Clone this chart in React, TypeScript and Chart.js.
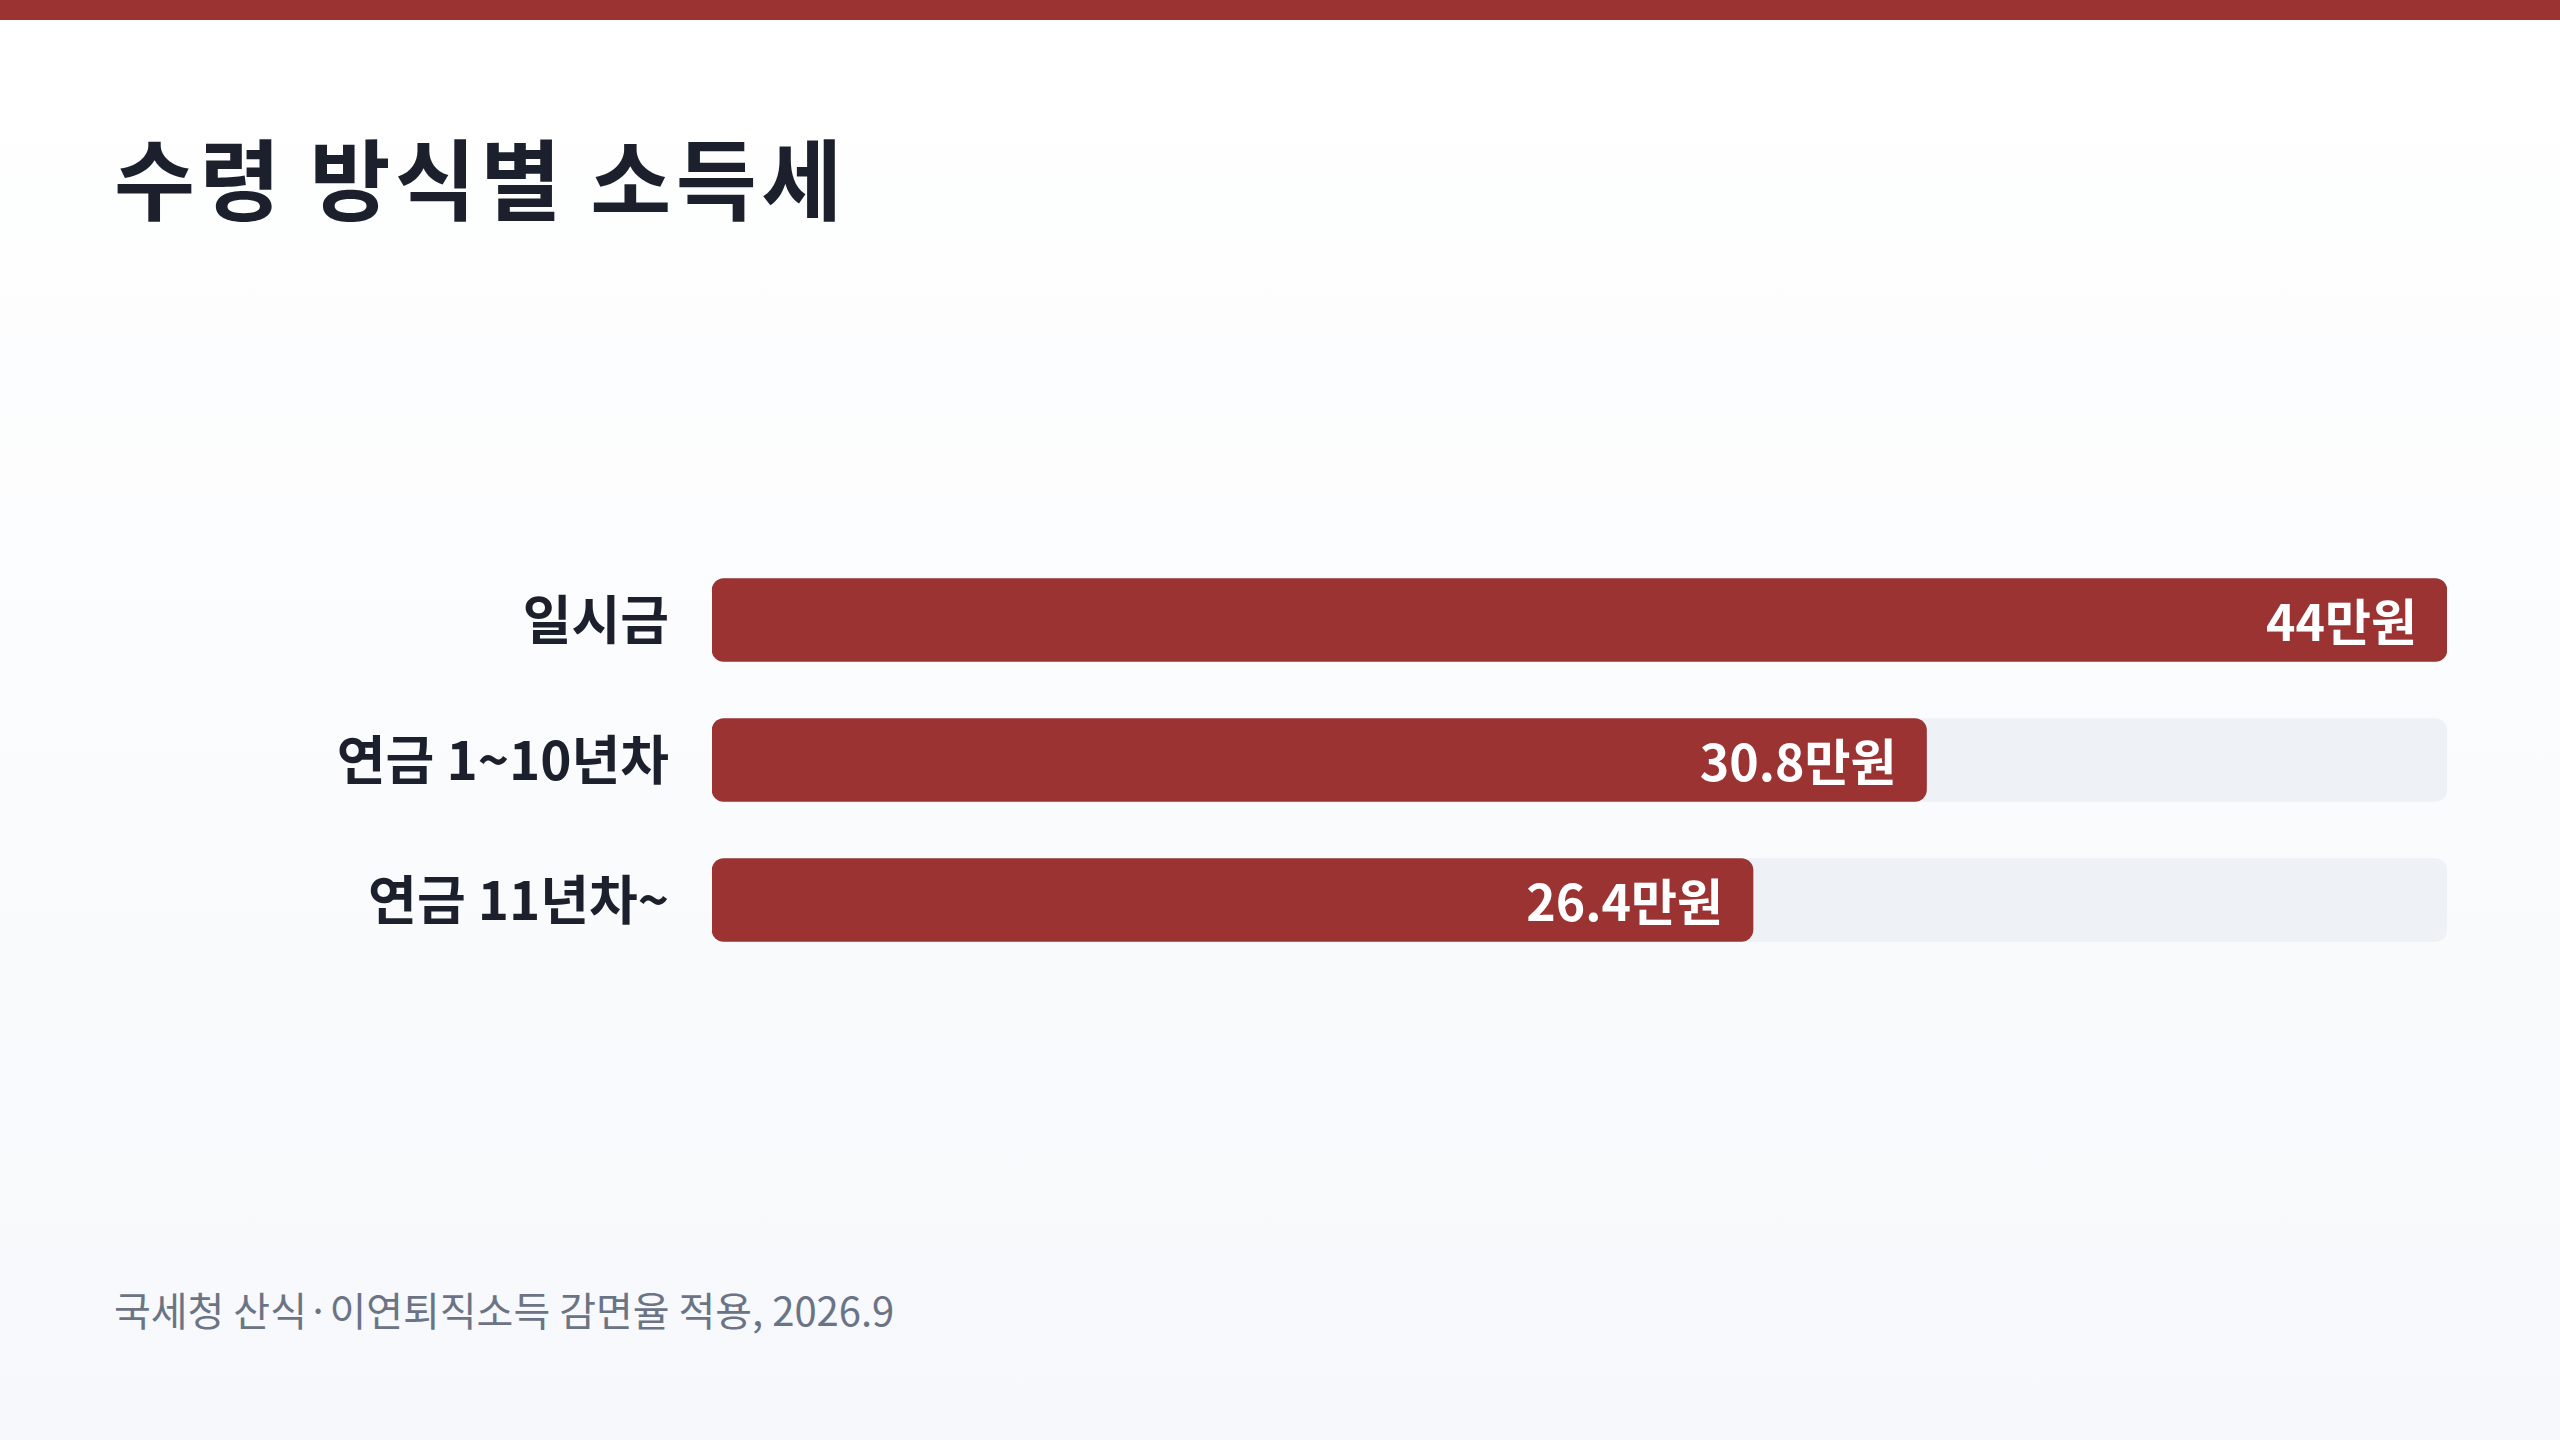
import { Chart, registerables, type ChartData, type ChartOptions, type Plugin } from 'chart.js';
import { type FC, useEffect, useMemo, useRef } from 'react';

Chart.register(...registerables);

const categories = ['일시금', '연금 1~10년차', '연금 11년차~'];
const taxValues = [44, 30.8, 26.4];
const valueLabels = ['44만원', '30.8만원', '26.4만원'];
const trackMax = 44;

const FONT = '"Noto Sans CJK KR", "Noto Sans", sans-serif';
const RED = '#9b3332';
const TRACK = '#eef1f6';
const INK = '#1b202c';

const CHART_W = 2447;
const CHART_H = 420;

// 막대 안쪽 오른쪽 끝에 값 라벨
const valueLabelPlugin: Plugin<'bar'> = {
  id: 'valueLabels',
  afterDatasetsDraw(chart) {
    const meta = chart.getDatasetMeta(0);
    const ctx = chart.ctx;
    ctx.save();
    ctx.font = `700 50px ${FONT}`;
    ctx.fillStyle = '#ffffff';
    ctx.textAlign = 'right';
    ctx.textBaseline = 'middle';
    meta.data.forEach((bar, i) => {
      ctx.fillText(valueLabels[i], bar.x - 30, bar.y + 2);
    });
    ctx.restore();
  },
};

const App: FC = () => {
  const canvasRef = useRef<HTMLCanvasElement>(null);
  const chartRef = useRef<Chart<'bar'> | null>(null);

  const data: ChartData<'bar'> = useMemo(
    () => ({
      labels: categories,
      datasets: [
        {
          label: '소득세',
          data: taxValues,
          backgroundColor: RED,
          borderRadius: 12,
          borderSkipped: false,
          barThickness: 83,
          grouped: false,
        },
        {
          label: 'track',
          data: categories.map(() => trackMax),
          backgroundColor: TRACK,
          borderRadius: 12,
          borderSkipped: false,
          barThickness: 83,
          grouped: false,
        },
      ],
    }),
    [],
  );

  const options: ChartOptions<'bar'> = useMemo(
    () => ({
      indexAxis: 'y',
      animation: false,
      responsive: false,
      devicePixelRatio: 1,
      layout: { padding: 0 },
      plugins: {
        legend: { display: false },
        tooltip: { enabled: false },
      },
      scales: {
        x: {
          display: false,
          min: 0,
          max: trackMax,
        },
        y: {
          grid: { display: false, drawTicks: false },
          border: { display: false },
          ticks: {
            padding: 43,
            color: INK,
            font: { family: FONT, size: 53, weight: 'bold' },
          },
          afterFit: (scale) => {
            // 라벨 영역 폭 고정, 위아래 여백 제거
            scale.width = 712;
            scale.paddingTop = 0;
            scale.paddingBottom = 0;
          },
        },
      },
    }),
    [],
  );

  useEffect(() => {
    if (!canvasRef.current) return;
    chartRef.current = new Chart(canvasRef.current, {
      type: 'bar',
      data,
      options,
      plugins: [valueLabelPlugin],
    });
    return () => {
      chartRef.current?.destroy();
    };
  }, [data, options]);

  return (
    <div
      style={{
        position: 'fixed',
        left: 0,
        top: 0,
        width: 2560,
        height: 1440,
        background: 'linear-gradient(180deg, #ffffff 0%, #f6f8fb 100%)',
        fontFamily: FONT,
        overflow: 'hidden',
      }}
    >
      <div style={{ position: 'absolute', left: 0, top: 0, width: 2560, height: 20, background: RED }} />
      <div
        style={{
          position: 'absolute',
          left: 114,
          top: 131,
          fontSize: 88,
          fontWeight: 700,
          lineHeight: 1,
          letterSpacing: 4.5,
          color: INK,
          whiteSpace: 'nowrap',
        }}
      >
        수령 방식별 소득세
      </div>
      <div style={{ position: 'absolute', left: 0, top: 550, width: CHART_W, height: CHART_H }}>
        <canvas ref={canvasRef} width={CHART_W} height={CHART_H} style={{ width: CHART_W, height: CHART_H }} />
      </div>
      <div
        style={{
          position: 'absolute',
          left: 114,
          top: 1289,
          fontSize: 40,
          lineHeight: 1,
          color: '#6b7485',
          whiteSpace: 'nowrap',
        }}
      >
        국세청 산식·이연퇴직소득 감면율 적용, 2026.9
      </div>
    </div>
  );
};

export default App;
